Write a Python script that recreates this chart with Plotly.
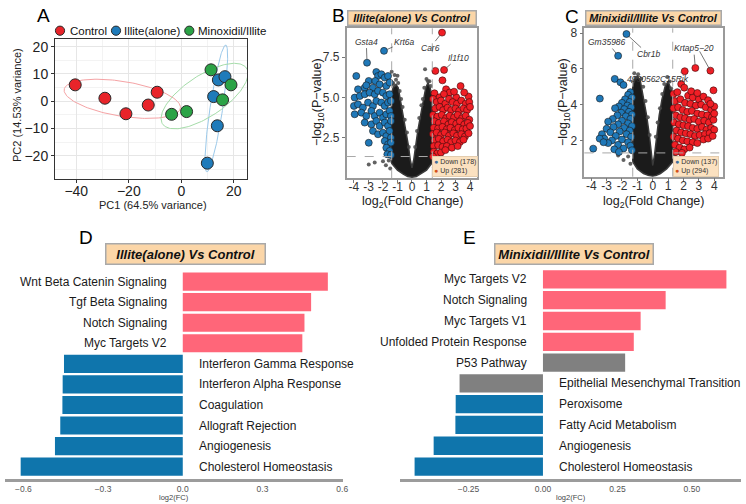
import numpy as np
import plotly.graph_objects as go

W, H = 746, 504
FONT = "Liberation Sans, Arial, Helvetica, sans-serif"


def px(x):
    return x / W


def py(y):
    return 1 - y / H


# ---------------- Panel A : PCA ----------------
PCA_GROUPS = ["Control", "Illite(alone)", "Minoxidil/Illite"]
PC1_CONTROL = [-40.4, -29.1, -21.1, -12.6, -9.2]
PC2_CONTROL = [6.0, 1.1, -4.6, -1.4, 3.3]
PC1_ILLITE = [9.9, 13.7, 12.3, 14.1, 16.6]
PC2_ILLITE = [-22.7, -9.0, 1.7, 7.8, 9.0]
PC1_MINOX = [11.3, 18.9, 15.7, -3.7, 2.0]
PC2_MINOX = [11.5, 6.0, 0.5, -4.8, -3.8]
PCA_XTICKS = [-40, -20, 0, 20]
PCA_YTICKS = [-20, -10, 0, 10, 20]
ELLIPSE_RADIUS = 1.75

# ---------------- Panel B : volcano Illite vs Control ----------------
B_DOWN = [
    (-3.10, 7.16), (-1.93, 7.90),
    (-3.84, 6.33), (-2.46, 6.58), (-2.34, 6.33), (-2.11, 6.44), (-2.98, 6.02), (-2.53, 6.02),
    (-3.26, 5.60), (-3.72, 5.50), (-3.15, 5.75), (-1.88, 6.23), (-1.65, 6.33), (-2.23, 5.81),
    (-2.69, 5.60), (-1.77, 5.71), (-1.54, 5.92),
    (-3.95, 4.98), (-3.60, 5.08), (-3.26, 5.19), (-2.92, 5.29), (-2.57, 5.19), (-2.34, 5.40),
    (-2.00, 5.29), (-1.77, 5.08), (-1.54, 5.19),
    (-4.00, 4.46), (-3.72, 4.56), (-3.38, 4.36), (-3.03, 4.67), (-2.69, 4.46), (-2.46, 4.77),
    (-2.11, 4.67), (-1.88, 4.46), (-1.65, 4.67), (-1.45, 4.77),
    (-3.95, 3.94), (-3.49, 4.04), (-3.15, 3.83), (-2.80, 4.15), (-2.57, 3.83), (-2.23, 4.04),
    (-2.00, 3.73), (-1.77, 3.94), (-1.54, 4.15), (-1.45, 3.83),
    (-3.26, 3.42), (-2.80, 3.31), (-2.46, 3.52), (-2.23, 3.21), (-1.88, 3.42), (-1.65, 3.21),
    (-1.45, 3.52),
    (-2.69, 2.90), (-2.34, 2.69), (-2.00, 2.79), (-1.77, 2.58), (-1.54, 2.90), (-1.45, 2.48),
    (-1.88, 2.27), (-1.65, 2.06), (-1.45, 2.17), (-1.77, 1.85), (-1.54, 1.65), (-1.70, 1.44),
    (-1.45, 1.40), (-2.98, 2.16),
]
B_UP = [
    (2.07, 9.04), (1.61, 6.65), (2.21, 6.71), (2.10, 6.06), (1.55, 5.25), (2.35, 5.50),
    (2.60, 5.30), (3.35, 5.70), (3.90, 5.05), (3.05, 5.00), (2.90, 5.35), (1.90, 5.00),
    (2.20, 5.20), (3.60, 5.30),
    (1.45, 4.90), (1.70, 4.70), (2.00, 4.80), (2.30, 4.60), (2.55, 4.90), (2.80, 4.70),
    (3.10, 4.60), (3.40, 4.80), (3.70, 4.60), (3.95, 4.70), (1.60, 4.30), (1.90, 4.40),
    (2.15, 4.20), (2.45, 4.35), (2.70, 4.20), (3.00, 4.30), (3.25, 4.15), (3.55, 4.30),
    (3.80, 4.20), (4.00, 4.40),
    (1.45, 3.90), (1.75, 3.80), (2.05, 3.90), (2.35, 3.70), (2.60, 3.85), (2.90, 3.75),
    (3.15, 3.90), (3.45, 3.70), (3.70, 3.85), (3.95, 3.60), (1.55, 3.50), (1.85, 3.40),
    (2.20, 3.50), (2.50, 3.30), (2.75, 3.45), (3.05, 3.35), (3.30, 3.50), (3.60, 3.30),
    (3.85, 3.40), (1.50, 3.10), (1.80, 3.05), (2.10, 3.15), (2.40, 3.00), (2.65, 3.10),
    (2.95, 2.95), (3.20, 3.10), (3.50, 3.00), (3.75, 3.05), (4.00, 3.20),
    (1.45, 2.70), (1.70, 2.80), (2.00, 2.65), (2.25, 2.80), (2.55, 2.60), (2.85, 2.75),
    (3.10, 2.60), (3.40, 2.70), (3.65, 2.55), (3.90, 2.75), (1.55, 2.30), (1.85, 2.40),
    (2.15, 2.25), (2.45, 2.35), (2.70, 2.20), (3.00, 2.30), (3.30, 2.20), (3.55, 2.35),
    (1.50, 1.95), (1.80, 2.00), (2.10, 1.90), (2.40, 1.95), (2.75, 1.85), (3.15, 1.95),
    (1.50, 1.60), (1.75, 1.50), (2.00, 1.55), (1.45, 1.30), (2.30, 1.70),
]
B_NS_EDGE = [
    (-1.40, 6.60), (-1.20, 6.40), (-1.00, 6.35), (-1.10, 6.10), (-1.30, 5.90), (-0.95, 5.90),
    (-1.25, 5.75), (-0.85, 5.40), (-0.75, 4.90), (-0.65, 4.40), (-0.50, 3.60), (-0.35, 2.80),
    (-0.22, 1.90), (0.90, 6.75), (1.00, 6.15), (1.10, 6.00), (0.85, 5.60), (1.20, 6.00),
    (1.30, 5.70), (0.75, 4.90), (0.65, 4.50), (0.50, 3.70), (0.35, 2.90), (0.22, 1.90),
    (-2.57, 0.92), (-2.98, 0.80), (-2.00, 1.00), (-1.80, 0.75), (-1.60, 1.05), (-1.50, 0.55),
    (1.55, 1.05), (1.50, 0.60), (1.80, 0.85),
]
B_NS_CLOUD = [
    (-1.42, 0.9), (-1.42, 5.2), (-1.30, 5.6), (-1.10, 5.8), (-0.95, 5.6), (-0.80, 4.8),
    (-0.60, 3.9), (-0.40, 2.9), (-0.25, 2.0), (-0.12, 1.1), (0.00, 0.6), (0.12, 1.1),
    (0.25, 2.0), (0.40, 2.9), (0.60, 3.9), (0.80, 4.8), (0.95, 5.6), (1.10, 5.9),
    (1.25, 5.6), (1.38, 5.0), (1.38, 0.9), (1.00, 0.45), (0.60, 0.2), (0.30, 0.05),
    (0.00, 0.0), (-0.30, 0.05), (-0.60, 0.2), (-1.00, 0.45),
]
B_LABELS = [  # gene, point x, point y, label x, label y
    ("Gsta4", -3.10, 7.16, -3.15, 8.48),
    ("Krt6a", -1.93, 7.90, -0.50, 8.48),
    ("Car6", 2.07, 9.04, 1.25, 8.10),
    ("Il1f10", 2.21, 6.71, 3.18, 7.48),
]
B_COUNTS = (178, 281)
B_FC_CUT = 1.4
P_CUT = 1.3
FC_TICKS = [-4, -3, -2, -1, 0, 1, 2, 3, 4]
FC_TICKTEXT = ["-4", "-3", "-2", "-1", "0", "1", "2", "3", "4"]

# ---------------- Panel C : volcano Minoxidil/Illite vs Control ----------------
C_DOWN = [
    (-1.71, 7.95), (-2.25, 6.73), (-2.47, 5.44), (-2.10, 5.25), (-1.90, 5.10), (-3.44, 4.34),
    (-3.87, 1.54),
    (-1.45, 4.70), (-1.60, 4.55), (-1.35, 4.40), (-1.80, 4.30), (-1.50, 4.15), (-2.00, 4.10),
    (-1.65, 3.95), (-1.40, 3.85), (-2.20, 3.90), (-1.85, 3.75), (-2.45, 3.80), (-1.55, 3.60),
    (-2.05, 3.55), (-1.35, 3.45), (-2.30, 3.40), (-1.75, 3.35), (-2.60, 3.20), (-1.45, 3.20),
    (-2.00, 3.10), (-2.90, 3.05), (-1.60, 2.95), (-2.25, 2.90), (-1.35, 2.80), (-2.55, 2.75),
    (-1.85, 2.70), (-3.00, 2.65), (-1.50, 2.55), (-2.15, 2.50), (-2.75, 2.45), (-1.70, 2.35),
    (-3.30, 2.35), (-2.40, 2.25), (-1.40, 2.20), (-3.15, 2.10), (-2.00, 2.05), (-2.65, 2.00),
    (-1.60, 1.90), (-3.45, 2.10), (-2.90, 1.85), (-2.25, 1.75), (-1.45, 1.70), (-1.90, 1.55),
    (-2.50, 1.50), (-1.35, 1.45), (-2.20, 1.35), (-3.20, 1.90),
]
C_UP = [
    (2.08, 5.87), (2.77, 6.05), (3.75, 5.90), (1.85, 5.15), (2.05, 4.95), (3.95, 4.80),
    (1.35, 4.60), (1.60, 4.70), (2.30, 4.50), (2.60, 4.40), (3.00, 4.30), (3.30, 4.45),
    (3.60, 4.25), (1.45, 4.20), (1.80, 4.30), (2.10, 4.10), (2.45, 4.05), (2.80, 3.95),
    (3.15, 4.00), (3.45, 3.85), (3.80, 3.70), (4.00, 3.90), (1.35, 3.80), (1.65, 3.85),
    (1.95, 3.70), (2.25, 3.60), (2.55, 3.65), (2.90, 3.50), (3.20, 3.45), (3.55, 3.40),
    (3.85, 3.30), (1.50, 3.40), (1.80, 3.30), (2.10, 3.25), (2.40, 3.15), (2.70, 3.20),
    (3.00, 3.05), (3.35, 3.10), (3.65, 3.00), (3.95, 3.15), (1.40, 3.00), (1.70, 2.90),
    (2.00, 2.85), (2.30, 2.80), (2.60, 2.70), (2.90, 2.65), (3.20, 2.75), (3.50, 2.60),
    (3.80, 2.70), (1.55, 2.55), (1.85, 2.45), (2.15, 2.40), (2.45, 2.35), (2.75, 2.25),
    (3.05, 2.30), (3.40, 2.35), (3.70, 2.40), (4.00, 2.60), (1.35, 2.20), (1.65, 2.10),
    (1.95, 2.00), (2.25, 1.95), (2.60, 1.90), (2.90, 1.85), (1.45, 1.75), (1.75, 1.60),
    (2.05, 1.50), (2.40, 1.60), (1.50, 1.35), (1.90, 1.30), (3.30, 2.05), (3.60, 2.10),
    (3.90, 2.25), (4.00, 3.50), (3.75, 4.05), (2.50, 4.75), (2.90, 4.65),
]
C_NS_EDGE = [
    (-1.20, 5.75), (-0.95, 5.70), (-1.10, 5.50), (-0.75, 5.45), (-0.62, 5.00), (-0.47, 4.20),
    (-0.32, 3.30), (-0.20, 2.30), (0.95, 5.55), (0.75, 5.15), (1.10, 5.30), (0.62, 4.60),
    (0.47, 3.80), (0.32, 3.00), (0.20, 2.20), (-1.60, 1.10), (-1.90, 0.90), (-2.25, 1.15),
    (-1.45, 0.70), (1.45, 1.10), (1.70, 0.85), (-1.30, 5.30), (1.20, 4.90),
]
C_NS_CLOUD = [
    (-1.30, 0.8), (-1.30, 5.0), (-1.20, 5.4), (-1.00, 5.6), (-0.80, 5.3), (-0.60, 4.4),
    (-0.40, 3.4), (-0.22, 2.3), (-0.10, 1.2), (0.00, 0.6), (0.12, 1.2), (0.25, 2.3),
    (0.42, 3.4), (0.60, 4.3), (0.80, 5.0), (1.00, 5.3), (1.15, 5.0), (1.30, 4.6),
    (1.30, 0.8), (0.90, 0.4), (0.50, 0.15), (0.20, 0.03), (0.00, 0.0), (-0.25, 0.03),
    (-0.60, 0.15), (-1.00, 0.4),
]
C_LABELS = [
    ("Gm35986", -2.25, 6.73, -2.95, 7.50),
    ("Cbr1b", -1.71, 7.95, -0.30, 6.83),
    ("Krtap5\u221220", 2.77, 6.05, 2.66, 7.16),
    ("4930562C15Rik", 2.08, 5.87, 0.35, 5.44),
]
C_EXTRA_LINK_X = [3.75, 3.05]  # second Krtap5-20 leader: point -> label corner
C_EXTRA_LINK_Y = [5.90, 6.98]
C_COUNTS = (137, 294)
C_FC_CUT = 1.3

# ---------------- Panels D / E : pathway bars ----------------
D_TERMS = ["Wnt Beta Catenin Signaling", "Tgf Beta Signaling", "Notch Signaling",
           "Myc Targets V2", "Interferon Gamma Response", "Interferon Alpha Response",
           "Coagulation", "Allograft Rejection", "Angiogenesis", "Cholesterol Homeostasis"]
D_LOG2FC = [0.546, 0.483, 0.458, 0.450, -0.447, -0.452, -0.453, -0.461, -0.481, -0.610]
D_STATUS = ["up"] * 4 + ["down"] * 6
D_TICKS = [-0.6, -0.3, 0.0, 0.3, 0.6]
D_TICKTEXT = ["\u22120.6", "\u22120.3", "0.0", "0.3", "0.6"]

E_TERMS = ["Myc Targets V2", "Notch Signaling", "Myc Targets V1", "Unfolded Protein Response",
           "P53 Pathway", "Epithelial Mesenchymal Transition", "Peroxisome",
           "Fatty Acid Metabolism", "Angiogenesis", "Cholesterol Homeostasis"]
E_LOG2FC = [0.616, 0.412, 0.328, 0.305, 0.276, -0.280, -0.293, -0.294, -0.367, -0.431]
E_STATUS = ["up"] * 4 + ["ns", "ns"] + ["down"] * 4
E_TICKS = [-0.25, 0.0, 0.25, 0.5]
E_TICKTEXT = ["\u22120.25", "0.00", "0.25", "0.50"]

STATUS_COLORS = {"up": "#FF6679", "down": "#0F75AC", "ns": "#808080"}

# ======================================================================
fig = go.Figure()


def ellipse(xs, ys, r, n=160):
    pts = np.vstack([xs, ys])
    mu = pts.mean(axis=1)
    vals, vecs = np.linalg.eigh(np.cov(pts))
    t = np.linspace(0, 2 * np.pi, n)
    circ = np.vstack([np.cos(t), np.sin(t)])
    e = mu[:, None] + r * vecs @ (np.sqrt(vals)[:, None] * circ)
    return e[0], e[1]


pca = [
    (PC1_CONTROL, PC2_CONTROL, "#E8242A", "#F5A3A5"),
    (PC1_ILLITE, PC2_ILLITE, "#1F7BBA", "#9BC9EA"),
    (PC1_MINOX, PC2_MINOX, "#2BA346", "#A5DCA9"),
]
for xs, ys, col, ecol in pca:
    ex, ey = ellipse(xs, ys, ELLIPSE_RADIUS)
    fig.add_trace(go.Scatter(x=ex, y=ey, mode="lines", line=dict(color=ecol, width=1),
                             xaxis="x", yaxis="y", showlegend=False, hoverinfo="skip"))
for (xs, ys, col, ecol), name in zip(pca, PCA_GROUPS):
    fig.add_trace(go.Scatter(x=xs, y=ys, mode="markers", name=name,
                             marker=dict(size=12, color=col, line=dict(color="#2a2a2a", width=1)),
                             xaxis="x", yaxis="y", showlegend=False))


def volcano(xa, ya, cloud, edge, down, up):
    cx, cy = zip(*cloud)
    fig.add_trace(go.Scatter(x=list(cx) + [cx[0]], y=list(cy) + [cy[0]], mode="lines",
                             fill="toself", fillcolor="#1b1b1b",
                             line=dict(color="#3a3a3a", width=1.5),
                             xaxis=xa, yaxis=ya, showlegend=False, hoverinfo="skip"))
    gx, gy = zip(*edge)
    fig.add_trace(go.Scatter(x=gx, y=gy, mode="markers",
                             marker=dict(size=4, color="rgba(70,70,70,0.85)"),
                             xaxis=xa, yaxis=ya, showlegend=False))
    dx, dy = zip(*down)
    fig.add_trace(go.Scatter(x=dx, y=dy, mode="markers",
                             marker=dict(size=7, color="#1F78B8", line=dict(color="#1a1a1a", width=0.6)),
                             xaxis=xa, yaxis=ya, showlegend=False))
    ux, uy = zip(*up)
    fig.add_trace(go.Scatter(x=ux, y=uy, mode="markers",
                             marker=dict(size=7, color="#F01E25", line=dict(color="#3a0a0a", width=0.6)),
                             xaxis=xa, yaxis=ya, showlegend=False))


volcano("x2", "y2", B_NS_CLOUD, B_NS_EDGE, B_DOWN, B_UP)
volcano("x3", "y3", C_NS_CLOUD, C_NS_EDGE, C_DOWN, C_UP)
fig.add_trace(go.Scatter(x=C_EXTRA_LINK_X, y=C_EXTRA_LINK_Y, mode="lines",
                         line=dict(color="#555", width=0.8), xaxis="x3", yaxis="y3",
                         showlegend=False, hoverinfo="skip"))


def bars(xa, ya, terms, vals, status):
    fig.add_trace(go.Bar(x=vals[::-1], y=terms[::-1], orientation="h",
                         marker=dict(color=[STATUS_COLORS[s] for s in status[::-1]], line=dict(width=0)),
                         width=0.88, xaxis=xa, yaxis=ya, showlegend=False))


bars("x4", "y4", D_TERMS, D_LOG2FC, D_STATUS)
bars("x5", "y5", E_TERMS, E_LOG2FC, E_STATUS)

# ---------------------------------------------------------------- axes
tick_dark = dict(size=14, color="#222", family=FONT)
vol_tick = dict(size=12, color="#333", family=FONT)
bar_tick = dict(size=8.5, color="#555", family=FONT)

layout = dict(
    width=W, height=H, margin=dict(l=0, r=0, t=0, b=0),
    paper_bgcolor="white", plot_bgcolor="white", template="none",
    font=dict(family=FONT), bargap=0.12,
    xaxis=dict(domain=[px(55), px(247)], range=[-48.1, 25.0], anchor="y",
               tickvals=PCA_XTICKS, ticks="outside", ticklen=3, tickcolor="#333",
               tickfont=tick_dark, showline=True, mirror=True, linecolor="#333", linewidth=1,
               showgrid=True, gridcolor="#E6E6E6", gridwidth=1, zeroline=False,
               tickangle=0, ticklabelstandoff=-4,
               minor=dict(tickvals=[-50, -30, -10, 10], showgrid=True, gridcolor="#F3F3F3")),
    yaxis=dict(domain=[py(179), py(39)], range=[-28.5, 22.8], anchor="x",
               tickvals=PCA_YTICKS, ticks="outside", ticklen=3, tickcolor="#333",
               tickfont=tick_dark, showline=True, mirror=True, linecolor="#333", linewidth=1,
               showgrid=True, gridcolor="#E6E6E6", gridwidth=1, zeroline=False,
               minor=dict(tickvals=[-25, -15, -5, 5, 15], showgrid=True, gridcolor="#F3F3F3")),
    xaxis2=dict(domain=[px(346.7), px(476.7)], range=[-4.5, 4.46], anchor="y2",
                tickvals=FC_TICKS, ticktext=FC_TICKTEXT, ticks="outside", ticklen=3,
                tickcolor="#777", tickfont=vol_tick, showline=True, mirror=True,
                linecolor="#9A9A9A", linewidth=1.5, showgrid=False, zeroline=False,
                tickangle=0, ticklabelstandoff=-6),
    yaxis2=dict(domain=[py(178.3), py(28.3)], range=[-0.06, 9.31], anchor="x2",
                tickvals=[2.5, 5.0, 7.5], ticktext=["2.5", "5.0", "7.5"], ticks="outside",
                ticklen=3, tickcolor="#777", tickfont=vol_tick, showline=True, mirror=True,
                linecolor="#9A9A9A", linewidth=1.5, showgrid=False, zeroline=False),
    xaxis3=dict(domain=[px(584.3), px(722.7)], range=[-4.45, 4.55], anchor="y3",
                tickvals=FC_TICKS, ticktext=FC_TICKTEXT, ticks="outside", ticklen=3,
                tickcolor="#777", tickfont=vol_tick, showline=True, mirror=True,
                linecolor="#9A9A9A", linewidth=1.5, showgrid=False, zeroline=False,
                tickangle=0, ticklabelstandoff=-6),
    yaxis3=dict(domain=[py(176.7), py(28.3)], range=[-0.03, 8.27], anchor="x3",
                tickvals=[2, 4, 6, 8], ticks="outside", ticklen=3, tickcolor="#777",
                tickfont=vol_tick, showline=True, mirror=True, linecolor="#9A9A9A",
                linewidth=1.5, showgrid=False, zeroline=False),
    xaxis4=dict(domain=[px(5), px(343)], range=[-0.669, 0.603], anchor="y4",
                tickvals=D_TICKS, ticktext=D_TICKTEXT, ticks="", tickfont=bar_tick, tickangle=0,
                showline=True, linecolor="#9C9C9C", linewidth=2.5, showgrid=False, zeroline=False),
    yaxis4=dict(domain=[py(479), py(270.3)], range=[-0.6, 9.55], anchor="x4",
                type="category", categoryorder="array", categoryarray=D_TERMS[::-1],
                showticklabels=False, ticks="", showline=False, showgrid=False, zeroline=False),
    xaxis5=dict(domain=[px(399.7), px(741.3)], range=[-0.481, 0.666], anchor="y5",
                tickvals=E_TICKS, ticktext=E_TICKTEXT, ticks="", tickfont=bar_tick, tickangle=0,
                showline=True, linecolor="#9C9C9C", linewidth=2.5, showgrid=False, zeroline=False),
    yaxis5=dict(domain=[py(479), py(268)], range=[-0.6, 9.55], anchor="x5",
                type="category", categoryorder="array", categoryarray=E_TERMS[::-1],
                showticklabels=False, ticks="", showline=False, showgrid=False, zeroline=False),
)
fig.update_layout(**layout)

# ---------------------------------------------------------------- shapes
shapes = []
for xa, ya, cut in (("x2", "y2", B_FC_CUT), ("x3", "y3", C_FC_CUT)):
    for v in (-cut, cut):
        shapes.append(dict(type="line", xref=xa, yref=f"{ya} domain", x0=v, x1=v, y0=0, y1=1,
                           line=dict(color="#A8A8A8", width=1, dash="dash"), layer="above"))
    shapes.append(dict(type="line", xref=f"{xa} domain", yref=ya, x0=0, x1=1, y0=P_CUT, y1=P_CUT,
                       line=dict(color="#A8A8A8", width=1, dash="dash"), layer="above"))

# PCA legend keys
legend_items = [(60, "#E8242A", PCA_GROUPS[0], 68), (116, "#1F7BBA", PCA_GROUPS[1], 122),
                (189.3, "#2BA346", PCA_GROUPS[2], 196)]
for cxp, col, _, _ in legend_items:
    r = 4.6
    shapes.append(dict(type="circle", xref="paper", yref="paper",
                       x0=px(cxp - r), x1=px(cxp + r), y0=py(30.7 + r), y1=py(30.7 - r),
                       fillcolor=col, line=dict(color="#2a2a2a", width=1)))
fig.update_layout(shapes=shapes)

# ---------------------------------------------------------------- annotations
ann = []


def paper_text(x, y, text, size, color="#111", angle=0, xanchor="center", **kw):
    ann.append(dict(x=px(x), y=py(y), xref="paper", yref="paper", text=text, showarrow=False,
                    textangle=angle, xanchor=xanchor, yanchor="middle",
                    font=dict(size=size, color=color, family=FONT), **kw))


for cxp, col, name, tx in legend_items:
    paper_text(tx, 30.7, name, 11.5, "#111", xanchor="left")

# panel letters
for letter, x, y in (("A", 43, 15), ("B", 338, 15), ("C", 572, 16), ("D", 86, 237), ("E", 469, 237)):
    paper_text(x, y, letter, 19, "#000")

# axis titles
paper_text(153, 205, "PC1 (64.5% variance)", 11, "#222")
paper_text(17, 105, "PC2 (14.53% variance)", 11, "#222", angle=-90)
paper_text(412, 202, "log<sub>2</sub>(Fold Change)", 12.5, "#222")
paper_text(318, 102, "\u2212log<sub>10</sub>(P\u2212value)", 12.5, "#222", angle=-90)
paper_text(653, 202, "log<sub>2</sub>(Fold Change)", 12.5, "#222")
paper_text(564, 102, "\u2212log<sub>10</sub>(P\u2212value)", 12.5, "#222", angle=-90)
paper_text(174, 497, "log2(FC)", 7.5, "#444")
paper_text(570.5, 497, "log2(FC)", 7.5, "#444")

# title boxes
box = dict(bgcolor="#FBD6A8", bordercolor="#A9A9A9", borderwidth=1.5, borderpad=1)
paper_text(411.7, 18.3, "<b><i>Illite(alone) Vs Control</i></b>", 11, "#111", width=125, height=11, **box)
paper_text(653.5, 18.3, "<b><i>Minixidil/Illite Vs Control</i></b>", 11, "#111", width=132, height=11, **box)
paper_text(185, 253.8, "<b><i>Illite(alone) Vs Control</i></b>", 13, "#111", width=156, height=17, **box)
paper_text(574.3, 253.8, "<b><i>Minixidil/Illite Vs Control</i></b>", 13, "#111", width=155, height=17, **box)

# volcano legends
for x0, counts in ((432, B_COUNTS), (673, C_COUNTS)):
    txt = (f"<span style='color:#41709F'>\u25CF</span> Down ({counts[0]})<br>"
           f"<span style='color:#D4501B'>\u25CF</span> Up ({counts[1]})")
    ann.append(dict(x=px(x0), y=py(176.5), xref="paper", yref="paper", text=txt, showarrow=False,
                    xanchor="left", yanchor="bottom", align="left",
                    font=dict(size=7, color="#333", family=FONT),
                    bgcolor="#FBE1C0", bordercolor="#E3CCAE", borderwidth=1, borderpad=1))

# gene labels
for xa, ya, labels in (("x2", "y2", B_LABELS), ("x3", "y3", C_LABELS)):
    for gene, x, y, lx, ly in labels:
        ann.append(dict(x=x, y=y, xref=xa, yref=ya, ax=lx, ay=ly, axref=xa, ayref=ya,
                        text=f"<i>{gene}</i>", showarrow=True, arrowhead=0, arrowwidth=0.8,
                        arrowcolor="#555", standoff=3.5,
                        font=dict(size=8.5, color="#333", family=FONT)))

# pathway bar labels
for xa, ya, terms, vals in (("x4", "y4", D_TERMS, D_LOG2FC), ("x5", "y5", E_TERMS, E_LOG2FC)):
    for term, v in zip(terms, vals):
        pos = v > 0
        ann.append(dict(x=0, y=term, xref=xa, yref=ya, text=term, showarrow=False,
                        xanchor="right" if pos else "left", xshift=-14 if pos else 14,
                        yanchor="middle", font=dict(size=12, color="#1a1a1a", family=FONT)))

fig.update_layout(annotations=ann)
fig.write_html("out.html")
